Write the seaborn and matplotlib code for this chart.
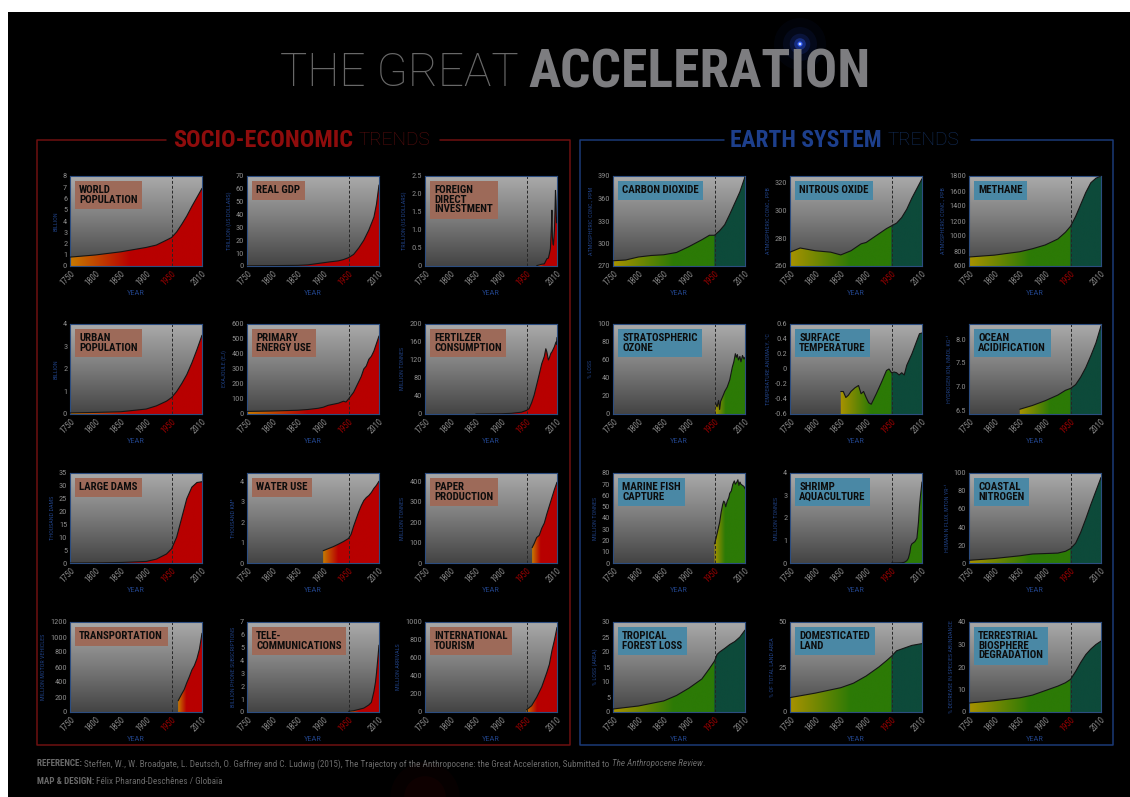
import numpy as np
import matplotlib
matplotlib.use('Agg')
import matplotlib.pyplot as plt
import seaborn as sns
from matplotlib import font_manager
from matplotlib.patches import Polygon, Rectangle
from matplotlib.colors import LinearSegmentedColormap, to_rgb

# ---- data ----
pop_years = [1750, 1800, 1850, 1900, 1920, 1940, 1950, 1960, 1970, 1980, 1990, 2000, 2010]
pop_vals = [0.79, 0.98, 1.26, 1.65, 1.86, 2.3, 2.53, 3.02, 3.7, 4.44, 5.3, 6.1, 6.9]

gdp_years = [1750, 1800, 1850, 1870, 1900, 1913, 1930, 1940, 1950, 1960, 1970, 1980, 1990, 2000, 2005, 2010]
gdp_vals = [0.2, 0.3, 0.5, 0.9, 2.5, 3.2, 4.0, 5.0, 6.5, 9, 14, 20, 28, 38, 48, 63]

fdi_years = [1970, 1975, 1980, 1985, 1990, 1993, 1995, 1997, 1999, 2000, 2001, 2002, 2003, 2005, 2006, 2007, 2008, 2009, 2010]
fdi_vals = [0.01, 0.03, 0.05, 0.06, 0.2, 0.22, 0.34, 0.48, 1.1, 1.55, 0.8, 0.62, 0.58, 1.0, 1.5, 2.1, 1.8, 1.2, 1.35]

urban_years = [1750, 1800, 1850, 1900, 1920, 1940, 1950, 1960, 1970, 1980, 1990, 2000, 2010]
urban_vals = [0.05, 0.07, 0.1, 0.22, 0.36, 0.57, 0.73, 1.0, 1.35, 1.75, 2.27, 2.86, 3.5]

energy_years = [1750, 1800, 1850, 1870, 1890, 1900, 1910, 1920, 1930, 1940, 1945, 1950, 1960, 1970, 1975, 1980, 1985, 1990, 1995, 2000, 2005, 2010]
energy_vals = [17, 20, 25, 30, 38, 45, 58, 65, 72, 85, 80, 100, 145, 215, 250, 300, 320, 365, 385, 420, 470, 520]

fert_years = [1850, 1900, 1920, 1940, 1950, 1955, 1960, 1965, 1970, 1975, 1980, 1985, 1988, 1990, 1993, 1995, 1998, 2000, 2003, 2005, 2008, 2009, 2010]
fert_vals = [0, 0.5, 1.5, 4, 8, 12, 25, 42, 65, 88, 112, 128, 145, 138, 120, 125, 135, 138, 145, 150, 160, 155, 170]

dams_years = [1750, 1800, 1850, 1900, 1920, 1940, 1950, 1960, 1970, 1980, 1990, 2000, 2010]
dams_vals = [0, 0.05, 0.2, 0.6, 1.5, 3.5, 5.5, 10, 17.5, 25, 29.5, 31.3, 31.6]

water_years = [1900, 1910, 1920, 1930, 1940, 1950, 1955, 1960, 1965, 1970, 1975, 1980, 1985, 1990, 1995, 2000, 2005, 2010]
water_vals = [0.6, 0.7, 0.8, 0.92, 1.05, 1.2, 1.4, 1.8, 2.15, 2.5, 2.8, 3.05, 3.2, 3.3, 3.45, 3.65, 3.8, 4.0]

paper_years = [1961, 1965, 1970, 1975, 1980, 1985, 1990, 1995, 2000, 2005, 2010]
paper_vals = [75, 95, 125, 135, 170, 195, 240, 280, 320, 360, 395]

transport_years = [1963, 1970, 1975, 1980, 1985, 1990, 1995, 2000, 2005, 2010]
transport_vals = [150, 240, 300, 390, 470, 560, 620, 710, 840, 1050]

telecom_years = [1950, 1960, 1970, 1980, 1990, 1995, 2000, 2003, 2005, 2008, 2010]
telecom_vals = [0.05, 0.1, 0.2, 0.3, 0.55, 0.75, 1.6, 2.3, 3.0, 4.3, 5.2]

tourism_years = [1950, 1960, 1970, 1980, 1990, 1995, 2000, 2005, 2010]
tourism_vals = [25, 70, 165, 280, 440, 530, 680, 800, 940]

co2_years = [1750, 1775, 1800, 1825, 1850, 1875, 1900, 1925, 1940, 1950, 1960, 1970, 1980, 1990, 2000, 2010]
co2_vals = [277, 278, 282, 284, 285, 288, 296, 305, 311, 311, 317, 325, 339, 354, 369, 389]

n2o_years = [1750, 1770, 1800, 1830, 1850, 1870, 1890, 1900, 1920, 1940, 1950, 1960, 1970, 1980, 1990, 2000, 2010]
n2o_vals = [270, 273, 271, 270, 268, 271, 276, 277, 282, 287, 289, 291, 295, 301, 309, 316, 323]

ch4_years = [1750, 1800, 1850, 1875, 1900, 1925, 1940, 1950, 1960, 1970, 1980, 1990, 2000, 2010]
ch4_vals = [720, 745, 790, 830, 880, 960, 1050, 1130, 1260, 1420, 1580, 1710, 1770, 1800]

ozone_years = [1952, 1955, 1958, 1960, 1962, 1965, 1968, 1970, 1975, 1980, 1985, 1988, 1991, 1993, 1995, 1997, 2000, 2002, 2005, 2008, 2010]
ozone_vals = [12, 8, 15, 5, 14, 18, 22, 25, 30, 38, 52, 58, 67, 63, 66, 60, 64, 58, 65, 61, 63]

temp_years = [1850, 1855, 1860, 1865, 1870, 1878, 1885, 1890, 1895, 1900, 1905, 1910, 1920, 1930, 1940, 1945, 1950, 1955, 1960, 1965, 1970, 1975, 1980, 1990, 2000, 2005, 2010]
temp_vals = [-0.3, -0.3, -0.38, -0.35, -0.3, -0.25, -0.22, -0.33, -0.3, -0.38, -0.45, -0.47, -0.33, -0.18, -0.02, 0.0, -0.05, -0.04, -0.05, -0.08, -0.05, -0.08, 0.05, 0.2, 0.38, 0.47, 0.48]

ocean_years = [1850, 1875, 1900, 1925, 1940, 1950, 1960, 1970, 1980, 1990, 2000, 2010]
ocean_vals = [6.52, 6.6, 6.7, 6.82, 6.92, 6.96, 7.04, 7.2, 7.4, 7.65, 7.92, 8.28]

fish_years = [1950, 1953, 1956, 1960, 1963, 1966, 1968, 1970, 1972, 1975, 1978, 1980, 1983, 1986, 1989, 1991, 1994, 1996, 1998, 2000, 2002, 2005, 2008, 2010]
fish_vals = [17, 22, 28, 36, 45, 52, 55, 54, 50, 55, 58, 62, 64, 70, 73, 70, 72, 74, 69, 72, 70, 69, 68, 66]

shrimp_years = [1950, 1960, 1970, 1975, 1980, 1983, 1986, 1988, 1990, 1993, 1996, 2000, 2003, 2005, 2007, 2010]
shrimp_vals = [0, 0, 0.01, 0.03, 0.1, 0.2, 0.45, 0.75, 0.85, 0.9, 0.95, 1.1, 1.8, 2.5, 3.0, 3.6]

coastal_years = [1750, 1800, 1850, 1875, 1900, 1925, 1940, 1950, 1960, 1970, 1980, 1990, 2000, 2010]
coastal_vals = [3, 5, 8, 10, 10.5, 11, 13, 16, 22, 34, 49, 65, 80, 95]

forest_years = [1750, 1800, 1850, 1875, 1900, 1925, 1940, 1950, 1955, 1960, 1970, 1980, 1990, 2000, 2010]
forest_vals = [1, 2, 3.7, 5.5, 8, 11, 14.5, 17, 19.2, 20, 21.2, 22.5, 23.5, 25, 27.3]

domestic_years = [1750, 1800, 1850, 1875, 1900, 1925, 1940, 1950, 1960, 1970, 1980, 1990, 2000, 2010]
domestic_vals = [8, 10.5, 13.5, 16, 20, 25, 28.5, 31, 34, 35, 36, 37, 37.5, 38]

bio_years = [1750, 1800, 1850, 1875, 1900, 1925, 1940, 1950, 1960, 1970, 1980, 1990, 2000, 2010]
bio_vals = [4, 5, 6.3, 7.5, 9.5, 11.5, 13, 14.5, 18, 22, 25.5, 28, 30, 31.5]

x_ticks = [1750, 1800, 1850, 1900, 1950, 2010]

# title, years, values, ylim, yticks, tick format, unit label
socio_panels = [
    ('WORLD\nPOPULATION', pop_years, pop_vals, (0, 8), np.arange(0, 9, 1), '{:g}', 'BILLION'),
    ('REAL GDP', gdp_years, gdp_vals, (0, 70), np.arange(0, 71, 10), '{:g}', 'TRILLION (US DOLLARS)'),
    ('FOREIGN\nDIRECT\nINVESTMENT', fdi_years, fdi_vals, (0, 2.5), [0, 0.5, 1, 1.5, 2, 2.5], '{:.1f}', 'TRILLION (US DOLLARS)'),
    ('URBAN\nPOPULATION', urban_years, urban_vals, (0, 4), np.arange(0, 5, 1), '{:g}', 'BILLION'),
    ('PRIMARY\nENERGY USE', energy_years, energy_vals, (0, 600), np.arange(0, 601, 100), '{:g}', 'EXAJOULE (EJ)'),
    ('FERTILZER\nCONSUMPTION', fert_years, fert_vals, (0, 200), np.arange(0, 201, 40), '{:g}', 'MILLION TONNES'),
    ('LARGE DAMS', dams_years, dams_vals, (0, 35), np.arange(0, 36, 5), '{:g}', 'THOUSAND DAMS'),
    ('WATER USE', water_years, water_vals, (0, 4.4), np.arange(0, 5, 1), '{:g}', 'THOUSAND KM³'),
    ('PAPER\nPRODUCTION', paper_years, paper_vals, (0, 440), np.arange(0, 401, 100), '{:g}', 'MILLION TONNES'),
    ('TRANSPORTATION', transport_years, transport_vals, (0, 1200), np.arange(0, 1201, 200), '{:g}', 'MILLION MOTOR VEHICLES'),
    ('TELE-\nCOMMUNICATIONS', telecom_years, telecom_vals, (0, 7), np.arange(0, 8, 1), '{:g}', 'BILLION PHONE SUBSCRIPTIONS'),
    ('INTERNATIONAL\nTOURISM', tourism_years, tourism_vals, (0, 1000), np.arange(0, 1001, 200), '{:g}', 'MILLION ARRIVALS'),
]

earth_panels = [
    ('CARBON DIOXIDE', co2_years, co2_vals, (270, 390), np.arange(270, 391, 30), '{:g}', 'ATMOSPHERIC CONC., PPM'),
    ('NITROUS OXIDE', n2o_years, n2o_vals, (260, 325), np.arange(260, 321, 20), '{:g}', 'ATMOSPHERIC CONC., PPB'),
    ('METHANE', ch4_years, ch4_vals, (600, 1800), np.arange(600, 1801, 200), '{:g}', 'ATMOSPHERIC CONC., PPB'),
    ('STRATOSPHERIC\nOZONE', ozone_years, ozone_vals, (0, 100), np.arange(0, 101, 20), '{:g}', '% LOSS'),
    ('SURFACE\nTEMPERATURE', temp_years, temp_vals, (-0.6, 0.6), [-0.6, -0.4, -0.2, 0, 0.2, 0.4, 0.6], '{:g}', 'TEMPERATURE ANOMALY, °C'),
    ('OCEAN\nACIDIFICATION', ocean_years, ocean_vals, (6.42, 8.32), [6.5, 7.0, 7.5, 8.0], '{:.1f}', 'HYDROGEN ION, NMOL KG⁻¹'),
    ('MARINE FISH\nCAPTURE', fish_years, fish_vals, (0, 80), np.arange(0, 81, 10), '{:g}', 'MILLION TONNES'),
    ('SHRIMP\nAQUACULTURE', shrimp_years, shrimp_vals, (0, 4), np.arange(0, 5, 1), '{:g}', 'MILLION TONNES'),
    ('COASTAL\nNITROGEN', coastal_years, coastal_vals, (0, 100), np.arange(0, 101, 20), '{:g}', 'HUMAN N FLUX, MTON YR⁻¹'),
    ('TROPICAL\nFOREST LOSS', forest_years, forest_vals, (0, 30), np.arange(0, 31, 5), '{:g}', '% LOSS (AREA)'),
    ('DOMESTICATED\nLAND', domestic_years, domestic_vals, (0, 50), [0, 25, 50], '{:g}', '% OF TOTAL LAND AREA'),
    ('TERRESTRIAL\nBIOSPHERE\nDEGRADATION', bio_years, bio_vals, (0, 40), np.arange(0, 41, 10), '{:g}', '% DECREASE IN SPECIES ABUNDANCE'),
]

# ---- style ----
sns.set_theme(style='dark')
available = {f.name for f in font_manager.fontManager.ttflist}
COND = next((c for c in ['Roboto Condensed', 'Liberation Sans Narrow', 'DejaVu Sans Condensed',
                         'Open Sans Condensed', 'Noto Sans Condensed'] if c in available), 'DejaVu Sans')
LIGHT = next((c for c in ['Roboto', 'Lato', 'Open Sans', 'Inter', 'Noto Sans'] if c in available), 'DejaVu Sans')
plt.rcParams['font.family'] = [COND, 'DejaVu Sans']

W, H = 1130, 797
fig = plt.figure(figsize=(W / 100, H / 100), dpi=100, facecolor='white')

# overlay axes in pixel coordinates for frames, headers and footer
deco = fig.add_axes([0, 0, 1, 1], zorder=0)
deco.set_xlim(0, W)
deco.set_ylim(H, 0)
deco.axis('off')
deco.add_patch(Rectangle((8, 12), W - 8, H - 12, fc='black', ec='none', zorder=0))

renderer = fig.canvas.get_renderer()


def fit_width(t, width):
    w = t.get_window_extent(renderer).width
    t.set_fontsize(t.get_fontsize() * width / w)


# title
t1 = deco.text(519, 73, 'THE GREAT', ha='right', va='center', fontsize=36, color='#686868',
               family=[LIGHT, 'DejaVu Sans'], fontweight='light')
t2 = deco.text(528, 73, 'ACCELERATION', ha='left', va='center', fontsize=36, color='#7d7d80',
               fontweight='bold', fontstretch='condensed')
fit_width(t1, 239)
fit_width(t2, 342)

# blue flare above the title
for s, a in [(1400, 0.04), (600, 0.07), (220, 0.14), (70, 0.35), (14, 0.9)]:
    deco.scatter([800], [44], s=s, color='#2f5cff', alpha=a, edgecolors='none', zorder=2)
deco.scatter([800], [44], s=4, color='#c8d8ff', edgecolors='none', zorder=3)
# faint red glow at the bottom
for s, a in [(2500, 0.05), (900, 0.07)]:
    deco.scatter([425], [797], s=s, color='#7a0000', alpha=a, edgecolors='none', zorder=1)

# section frames and headers
sections = [
    (37, 570, '#6e1010', 'SOCIO-ECONOMIC', '#8e0c0c', '#5a0e0e', 353, 180, 72, 166, 440),
    (580, 1113, '#1b3a78', 'EARTH SYSTEM', '#1d3f8c', '#14305e', 882, 151, 72, 724, 971),
]
for x0, x1, col, bold, bcol, tcol, xsplit, wb, wt, g0, g1 in sections:
    top, bot = 140, 745
    deco.plot([g1, x1, x1, x0, x0, g0], [top, top, bot, bot, top, top], color=col, lw=1.1, zorder=1)
    hb = deco.text(xsplit, top, bold, ha='right', va='center', fontsize=19, color=bcol,
                   fontweight='bold', fontstretch='condensed')
    ht = deco.text(xsplit + 6, top, 'TRENDS', ha='left', va='center', fontsize=19, color=tcol,
                   family=[LIGHT, 'DejaVu Sans'], fontweight='light')
    fit_width(hb, wb)
    fit_width(ht, wt)

# footer
def runs(x, y, parts):
    for txt, kw in parts:
        t = deco.text(x, y, txt, ha='left', va='center', fontsize=6.6, color='#6a6a6a', **kw)
        x += t.get_window_extent(renderer).width


runs(37, 764, [('REFERENCE: ', dict(fontweight='bold')),
               ('Steffen, W., W. Broadgate, L. Deutsch, O. Gaffney and C. Ludwig (2015), The Trajectory of the '
                'Anthropocene: the Great Acceleration, Submitted to ', {}),
               ('The Anthropocene Review', dict(style='italic')),
               ('.', {})])
runs(37, 781, [('MAP & DESIGN: ', dict(fontweight='bold')),
               ('Félix Pharand-Deschênes / Globaïa', {})])

# ---- panels ----
ORANGE, RED = np.array(to_rgb('#c77a00')), np.array(to_rgb('#b80000'))
YELLOW, GREEN, TEAL = np.array(to_rgb('#a89200')), np.array(to_rgb('#2c7a06')), np.array(to_rgb('#0d4a3a'))
bg_cmap = LinearSegmentedColormap.from_list('bg', ['#444444', '#7a7a7a', '#aaaaaa'])
grid_x = np.linspace(1750, 2010, 521)


def fill_rgb(start, side):
    if start < 1950:
        t = np.clip((grid_x - start) / ((1950 - start) * 0.6), 0, 1)[:, None]
    else:
        t = np.clip((grid_x - start) / ((2010 - start) * 0.35), 0, 1)[:, None]
    if side == 'socio':
        rgb = ORANGE * (1 - t) + RED * t
    else:
        rgb = YELLOW * (1 - t) + GREEN * t
        if start < 1950:
            rgb[grid_x >= 1950] = TEAL
    return rgb[None, :, :]


def draw_panel(left, top, spec, side):
    title, yrs, vals, ylim, yticks, fmt, unit = spec
    ax = fig.add_axes([left / W, 1 - (top + 90) / H, 132 / W, 90 / H], zorder=2)
    ext = [1750, 2010, ylim[0], ylim[1]]
    ax.imshow(np.linspace(1, 0, 128)[:, None], cmap=bg_cmap, extent=ext, aspect='auto', zorder=0)
    poly = Polygon([(yrs[0], ylim[0])] + list(zip(yrs, vals)) + [(yrs[-1], ylim[0])],
                   closed=True, fc='none', ec='none')
    ax.add_patch(poly)
    im = ax.imshow(fill_rgb(yrs[0], side), extent=ext, aspect='auto', zorder=1)
    im.set_clip_path(poly)
    sns.lineplot(x=yrs, y=vals, ax=ax, color='#151515', lw=0.8, zorder=3)
    ax.axvline(1950, color='#262626', ls=(0, (3, 2)), lw=0.7, zorder=2)
    ax.set_xlim(1750, 2010)
    ax.set_ylim(*ylim)
    ax.grid(False)
    ax.set_xticks(x_ticks)
    ax.set_xticklabels([str(x) for x in x_ticks], rotation=45, ha='right', rotation_mode='anchor',
                       fontsize=6.2, color='#8a8a8a')
    ax.get_xticklabels()[4].set_color('#9a0000')
    ax.set_yticks(yticks)
    ax.set_yticklabels([('0' if v == 0 else fmt.format(v)) for v in yticks], fontsize=6, color='#8a8a8a')
    ax.tick_params(length=0, pad=2)
    ax.set_xlabel('YEAR', fontsize=6, color='#1f3f80', labelpad=2)
    ax.set_ylabel(unit, fontsize=4.4, color='#1f3f80', labelpad=3)
    for sp in ax.spines.values():
        sp.set_color('#2c4d80')
        sp.set_linewidth(0.8)
    box = '#9d6a59' if side == 'socio' else '#4a88a5'
    ax.text(0.07, 0.895, title, transform=ax.transAxes, ha='left', va='top', fontsize=7.8,
            fontweight='bold', fontstretch='condensed', color='#0c0c0c', linespacing=0.92, zorder=5,
            bbox=dict(boxstyle='square,pad=0.42', fc=box, ec='none'))


row_tops = [176, 324, 473, 622]
for i, spec in enumerate(socio_panels):
    draw_panel([70, 247, 425][i % 3], row_tops[i // 3], spec, 'socio')
for i, spec in enumerate(earth_panels):
    draw_panel([613, 790, 969][i % 3], row_tops[i // 3], spec, 'earth')

fig.savefig('out.png', dpi=100, facecolor=fig.get_facecolor())
